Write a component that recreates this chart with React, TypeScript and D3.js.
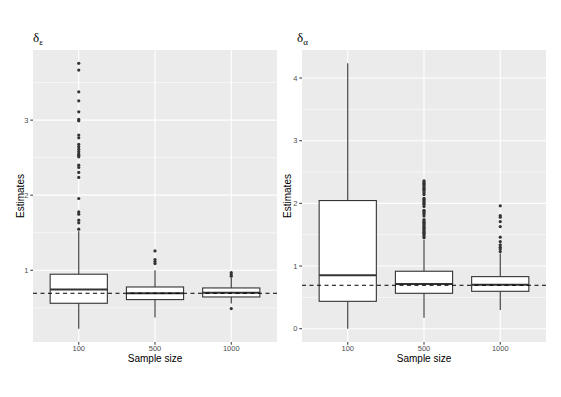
import React from "react";
import * as d3 from "d3";

const categories = ["100", "500", "1000"];

// Left panel (delta_epsilon)
const epsLower = [0.22, 0.37, 0.556];
const epsQ1 = [0.56, 0.609, 0.644];
const epsMedian = [0.743, 0.693, 0.70];
const epsQ3 = [0.947, 0.777, 0.764];
const epsUpper = [1.52, 1.0, 0.90];
const epsOutliers100 = [3.756, 3.667, 3.377, 3.257, 3.111, 3.009, 2.991, 2.80, 2.764, 2.676, 2.644, 2.609, 2.577, 2.547, 2.533, 2.511, 2.40, 2.369, 2.303, 2.236, 1.956, 1.777, 1.747, 1.667, 1.631, 1.547];
const epsOutliers500 = [1.257, 1.143, 1.116, 1.089];
const epsOutliers1000 = [0.969, 0.943, 0.92, 0.489];
const epsTicks = [1, 2, 3];
const epsMinor = [0.5, 1.5, 2.5, 3.5];
const epsDomain = [0.044, 3.934];

// Right panel (delta_alpha)
const alpLower = [0.0, 0.176, 0.30];
const alpQ1 = [0.437, 0.565, 0.597];
const alpMedian = [0.853, 0.714, 0.703];
const alpQ3 = [2.045, 0.917, 0.831];
const alpUpper = [4.235, 1.417, 1.20];
const alpOutliers100: number[] = [];
const alpOutliers500 = [2.36, 2.34, 2.32, 2.30, 2.28, 2.26, 2.24, 2.22, 2.20, 2.17, 2.14, 2.08, 2.06, 2.04, 2.02, 2.00, 1.98, 1.95, 1.89, 1.87, 1.85, 1.83, 1.80, 1.74, 1.72, 1.70, 1.68, 1.66, 1.64, 1.62, 1.60, 1.58, 1.56, 1.54, 1.52, 1.50, 1.47, 1.45];
const alpOutliers1000 = [1.96, 1.805, 1.78, 1.71, 1.63, 1.46, 1.39, 1.337, 1.30, 1.27, 1.23];
const alpTicks = [0, 1, 2, 3, 4];
const alpMinor = [0.5, 1.5, 2.5, 3.5];
const alpDomain = [-0.212, 4.447];

const trueValue = Math.log(2);

type PanelProps = {
  x0: number; x1: number; y0: number; y1: number;
  titleX: number; sub: string; ylabX: number;
  lower: number[]; q1: number[]; med: number[]; q3: number[]; upper: number[];
  outliers: number[][]; ticks: number[]; minor: number[]; domain: number[];
};

function Panel(p: PanelProps) {
  const x = d3.scalePoint<string>().domain(categories).range([p.x0, p.x1]).padding(0.6);
  const y = d3.scaleLinear().domain(p.domain).range([p.y1, p.y0]);
  const step = x.step();
  const bw = step * 0.75;
  const stroke = "#333333";
  return (
    <g>
      <rect x={p.x0} y={p.y0} width={p.x1 - p.x0} height={p.y1 - p.y0} fill="#ebebeb" />
      {p.minor.map((m) => (
        <line key={"mi" + m} x1={p.x0} x2={p.x1} y1={y(m)} y2={y(m)} stroke="#ffffff" strokeWidth={0.55} />
      ))}
      {p.ticks.map((t) => (
        <line key={"ma" + t} x1={p.x0} x2={p.x1} y1={y(t)} y2={y(t)} stroke="#ffffff" strokeWidth={1.1} />
      ))}
      {categories.map((c) => (
        <line key={"vx" + c} x1={x(c)} x2={x(c)} y1={p.y0} y2={p.y1} stroke="#ffffff" strokeWidth={1.1} />
      ))}
      {categories.map((c, i) => {
        const cx = x(c) as number;
        return (
          <g key={"b" + c}>
            <line x1={cx} x2={cx} y1={y(p.upper[i])} y2={y(p.q3[i])} stroke={stroke} strokeWidth={1.1} />
            <line x1={cx} x2={cx} y1={y(p.q1[i])} y2={y(p.lower[i])} stroke={stroke} strokeWidth={1.1} />
            <rect x={cx - bw / 2} y={y(p.q3[i])} width={bw} height={y(p.q1[i]) - y(p.q3[i])} fill="#ffffff" stroke={stroke} strokeWidth={1.1} />
            <line x1={cx - bw / 2} x2={cx + bw / 2} y1={y(p.med[i])} y2={y(p.med[i])} stroke={stroke} strokeWidth={2} />
            {p.outliers[i].map((o, j) => (
              <circle key={j} cx={cx} cy={y(o)} r={1.6} fill={stroke} />
            ))}
          </g>
        );
      })}
      <line x1={p.x0} x2={p.x1} y1={y(trueValue)} y2={y(trueValue)} stroke="#000000" strokeWidth={1} strokeDasharray="4,3.5" />
      {p.ticks.map((t) => (
        <g key={"t" + t}>
          <line x1={p.x0 - 2.7} x2={p.x0} y1={y(t)} y2={y(t)} stroke={stroke} strokeWidth={1} />
          <text x={p.x0 - 4.5} y={y(t)} dy="0.35em" textAnchor="end" fontSize={7.5} fill="#4d4d4d" fontFamily="Liberation Sans, Arial, sans-serif">{t}</text>
        </g>
      ))}
      {categories.map((c) => (
        <g key={"xt" + c}>
          <line x1={x(c)} x2={x(c)} y1={p.y1} y2={p.y1 + 2.7} stroke={stroke} strokeWidth={1} />
          <text x={x(c)} y={p.y1 + 8.5} textAnchor="middle" fontSize={7.5} fill="#4d4d4d" fontFamily="Liberation Sans, Arial, sans-serif">{c}</text>
        </g>
      ))}
      <text x={(p.x0 + p.x1) / 2} y={p.y1 + 19.8} textAnchor="middle" fontSize={10} fill="#000000" fontFamily="Liberation Sans, Arial, sans-serif">Sample size</text>
      <text transform={`translate(${p.ylabX},${(p.y0 + p.y1) / 2}) rotate(-90)`} textAnchor="middle" fontSize={10} fill="#000000" fontFamily="Liberation Sans, Arial, sans-serif">Estimates</text>
      <text x={p.titleX} y={p.y0 - 8} fontSize={13} fill="#000000" fontFamily="Liberation Serif, serif">
        δ<tspan fontSize={9} dy={3}>{p.sub}</tspan>
      </text>
    </g>
  );
}

export default function App() {
  return (
    <svg width={561} height={397} style={{ position: "absolute", left: 0, top: 0, background: "#ffffff" }}>
      <rect x={0} y={0} width={561} height={397} fill="#ffffff" />
      <Panel x0={33} x1={277} y0={50} y1={342} titleX={33} sub="ε" ylabX={24}
        lower={epsLower} q1={epsQ1} med={epsMedian} q3={epsQ3} upper={epsUpper}
        outliers={[epsOutliers100, epsOutliers500, epsOutliers1000]}
        ticks={epsTicks} minor={epsMinor} domain={epsDomain} />
      <Panel x0={302} x1={546} y0={50} y1={342} titleX={297} sub="α" ylabX={291}
        lower={alpLower} q1={alpQ1} med={alpMedian} q3={alpQ3} upper={alpUpper}
        outliers={[alpOutliers100, alpOutliers500, alpOutliers1000]}
        ticks={alpTicks} minor={alpMinor} domain={alpDomain} />
    </svg>
  );
}
